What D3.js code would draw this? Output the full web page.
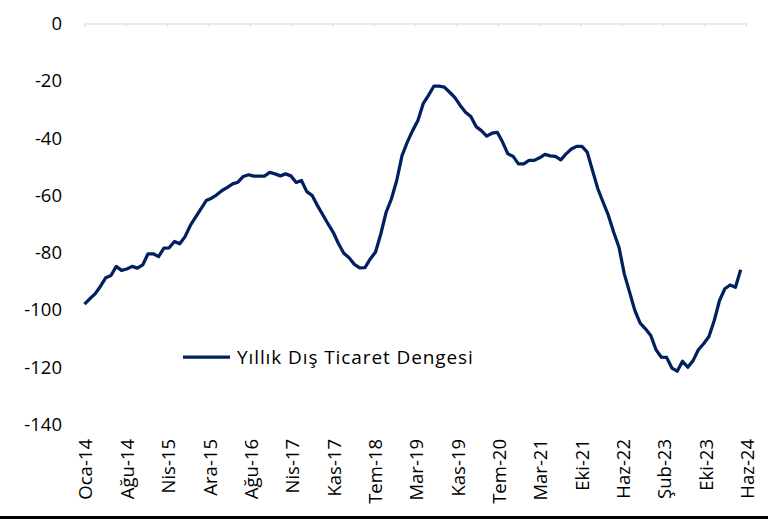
<!DOCTYPE html>
<html>
<head>
<meta charset="utf-8">
<script src="https://cdn.jsdelivr.net/npm/d3@7"></script>
<style>
  body { margin: 0; background: #fff; }
  svg { display: block; font-family: "Open Sans", "Noto Sans", sans-serif; }
</style>
</head>
<body>
<div id="vis"></div>
<script>
// Yıllık dış ticaret dengesi, aylık (Oca-14 ... May-24)
const seriesName = "Yıllık Dış Ticaret Dengesi";
const yillikDenge = [
  -98, -96.1, -94.4, -91.8, -88.8, -88, -84.8, -86.2, -85.7, -84.8, -85.4, -84.3,
  -80.4, -80.4, -81.4, -78.4, -78.3, -76.1, -76.9, -74.4, -70.5, -67.6, -64.7, -61.8,
  -61, -59.8, -58.3, -57.2, -56, -55.4, -53.4, -52.8, -53.3, -53.3, -53.3, -52,
  -52.5, -53.2, -52.5, -53.2, -55.5, -54.8, -58.7, -60, -63.5, -66.7, -69.9, -72.9,
  -76.9, -80.2, -81.8, -84.1, -85.3, -85.2, -82.2, -79.8, -73.4, -65.9, -61.2, -54.8,
  -46.1, -41.4, -37.4, -33.9, -28, -25.1, -21.9, -21.9, -22.2, -24, -25.9, -28.6,
  -31, -32.5, -36, -37.4, -39.3, -38.3, -38, -41.4, -45.5, -46.4, -49, -49,
  -47.8, -47.8, -46.9, -45.7, -46.2, -46.4, -47.6, -45.5, -43.8, -42.9, -42.9, -44.9,
  -51.3, -57.7, -62.4, -67, -72.9, -78.1, -87.4, -93.8, -100.2, -104.6, -106.6, -108.9,
  -113.9, -116.5, -116.6, -120.3, -121.4, -117.9, -120, -117.7, -113.9, -111.8, -109.3, -103.7,
  -96.7, -92.6, -91.3, -92.1, -86
];
const xTickLabels = [
  "Oca-14", "Ağu-14", "Nis-15", "Ara-15", "Ağu-16", "Nis-17", "Kas-17", "Tem-18",
  "Mar-19", "Kas-19", "Tem-20", "Mar-21", "Eki-21", "Haz-22", "Şub-23", "Eki-23", "Haz-24"
];
const yTicks = [0, -20, -40, -60, -80, -100, -120, -140];

const WIDTH = 768;
const HEIGHT = 519;
const PLOT = { left: 84.5, right: 746, top: 23.5, bottom: 424.5 };
const NAVY = "#002060";

const SVG = d3.select("#vis").append("svg")
  .attr("width", WIDTH)
  .attr("height", HEIGHT);

// eje x: Oca-14 .. Haz-24 (125 tramos mensuales), etiquetas en 16 tramos iguales
const nMonths = 125;
const escalaX = d3.scaleLinear()
  .domain([0, nMonths])
  .range([PLOT.left, PLOT.right]);

const escalaY = d3.scaleLinear()
  .domain([-140, 0])
  .range([PLOT.bottom, PLOT.top]);

const tickPos = xTickLabels.map((_, k) => k * nMonths / (xTickLabels.length - 1));

// linea del eje en y = 0
const ejeX = d3.axisBottom(escalaX)
  .tickValues(tickPos)
  .tickSize(3)
  .tickSizeOuter(3)
  .tickFormat("");

const gEje = SVG.append("g")
  .attr("transform", `translate(0, ${escalaY(0)})`)
  .call(ejeX);
gEje.selectAll("path, line").attr("stroke", "#d9d9d9").attr("stroke-width", 1);

// etiquetas x abajo, rotadas
SVG.append("g")
  .selectAll("text")
  .data(xTickLabels)
  .join("text")
  .attr("transform", (d, k) => `translate(${escalaX(tickPos[k]) + 1.5}, 439) rotate(-90)`)
  .attr("text-anchor", "end")
  .attr("dy", "0.35em")
  .attr("font-size", 18.5)
  .attr("fill", "#000")
  .text(d => d);

// etiquetas y
SVG.append("g")
  .selectAll("text")
  .data(yTicks)
  .join("text")
  .attr("x", 62)
  .attr("y", d => escalaY(d))
  .attr("text-anchor", "end")
  .attr("dy", "0.35em")
  .attr("font-size", 18.5)
  .attr("fill", "#000")
  .text(d => d);

// serie
const linea = d3.line()
  .x((d, i) => escalaX(i))
  .y(d => escalaY(d));

SVG.append("path")
  .datum(yillikDenge)
  .attr("fill", "none")
  .attr("stroke", NAVY)
  .attr("stroke-width", 3.25)
  .attr("stroke-linejoin", "round")
  .attr("d", linea);

// leyenda
const leyenda = SVG.append("g").attr("transform", "translate(183, 357)");
leyenda.append("line")
  .attr("x1", 0).attr("x2", 47)
  .attr("stroke", NAVY)
  .attr("stroke-width", 3.25);
leyenda.append("text")
  .attr("x", 54)
  .attr("dy", "0.35em")
  .attr("font-size", 19)
  .attr("letter-spacing", 0.9)
  .attr("fill", "#000")
  .text(seriesName);

// linea negra inferior
SVG.append("line")
  .attr("x1", 0).attr("x2", WIDTH)
  .attr("y1", 517.5).attr("y2", 517.5)
  .attr("stroke", "#000")
  .attr("stroke-width", 3);
</script>
</body>
</html>
